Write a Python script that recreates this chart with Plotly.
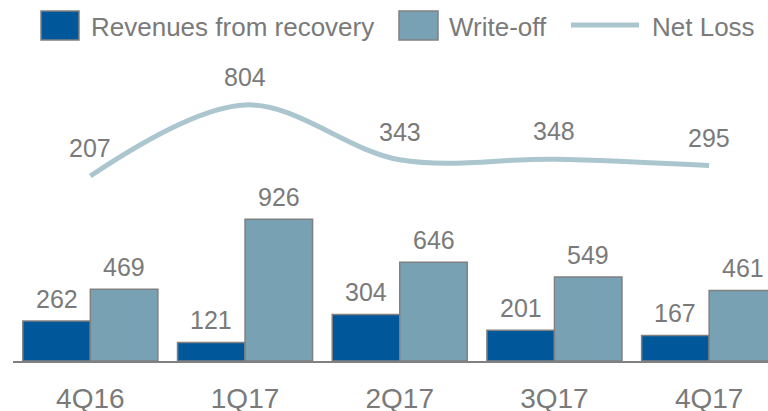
import plotly.graph_objects as go

categories = ["4Q16", "1Q17", "2Q17", "3Q17", "4Q17"]
revenues_recovery = [262, 121, 304, 201, 167]
write_off = [469, 926, 646, 549, 461]
net_loss = [207, 804, 343, 348, 295]
series_names = ["Revenues from recovery", "Write-off", "Net Loss"]

BLUE = "#00589b"
TEAL = "#78a2b4"
LINE = "#abc6cf"
GRAY = "#7a7a7a"
FONT = "Liberation Sans, Arial, sans-serif"
BARGAP = 0.127

fig = go.Figure()
fig.add_trace(go.Bar(x=categories, y=revenues_recovery, name=series_names[0],
                     marker=dict(color=BLUE, line=dict(color="#808080", width=1.5))))
fig.add_trace(go.Bar(x=categories, y=write_off, name=series_names[1],
                     marker=dict(color=TEAL, line=dict(color="#808080", width=1.5))))
fig.add_trace(go.Scatter(x=categories, y=net_loss, name=series_names[2], yaxis="y2",
                         mode="lines", line=dict(color=LINE, width=5, shape="spline", smoothing=1)))

w = (1 - BARGAP) / 2
annotations = []
for i, (a, b) in enumerate(zip(revenues_recovery, write_off)):
    annotations.append(dict(x=i - w / 2, y=a, xref="x", yref="y", text=str(a), showarrow=False,
                            yanchor="middle", yshift=22, font=dict(size=25, color=GRAY, family=FONT)))
    annotations.append(dict(x=i + w / 2, y=b, xref="x", yref="y", text=str(b), showarrow=False,
                            yanchor="middle", yshift=22, font=dict(size=25, color=GRAY, family=FONT)))
for i, v in enumerate(net_loss):
    annotations.append(dict(x=i, y=v, xref="x", yref="y2", text=str(v), showarrow=False,
                            yanchor="middle", yshift=28, font=dict(size=25, color=GRAY, family=FONT)))

# manual legend
W, H, L, T = 755.0, 361.0, 13.0, 0.0
def px(x):
    return (x - L) / W
def py(y):
    return (H - y) / H

shapes = [
    dict(type="rect", xref="paper", yref="paper", x0=px(41), x1=px(79), y0=py(40), y1=py(11),
         fillcolor=BLUE, line=dict(color="#808080", width=1.5)),
    dict(type="rect", xref="paper", yref="paper", x0=px(399), x1=px(438), y0=py(40), y1=py(11),
         fillcolor=TEAL, line=dict(color="#808080", width=1.5)),
    dict(type="line", xref="paper", yref="paper", x0=px(571), x1=px(639), y0=py(25), y1=py(25),
         line=dict(color=LINE, width=5)),
]
for name, xs in zip(series_names, [89, 447, 650]):
    annotations.append(dict(x=px(xs), y=py(27), xref="paper", yref="paper", text=name,
                            showarrow=False, xanchor="left", yanchor="middle",
                            font=dict(size=26, color=GRAY, family=FONT)))

fig.update_layout(
    width=768, height=411,
    margin=dict(l=13, r=0, t=0, b=50),
    paper_bgcolor="white", plot_bgcolor="white",
    barmode="group", bargap=BARGAP, bargroupgap=0,
    showlegend=False,
    xaxis=dict(type="category", range=[-0.5, -0.5 + W / 154.7], showline=True, linecolor="#808080",
               linewidth=2, showgrid=False, zeroline=False, ticks="outside", ticklen=11,
               tickcolor="rgba(0,0,0,0)", automargin=False,
               tickfont=dict(size=28, color=GRAY, family=FONT)),
    yaxis=dict(range=[0, 2359], visible=False, showgrid=False, zeroline=False, automargin=False),
    yaxis2=dict(range=[-1348, 1686], overlaying="y", visible=False, showgrid=False,
                zeroline=False, automargin=False),
    annotations=annotations,
    shapes=shapes,
)
fig.write_html("out.html")
